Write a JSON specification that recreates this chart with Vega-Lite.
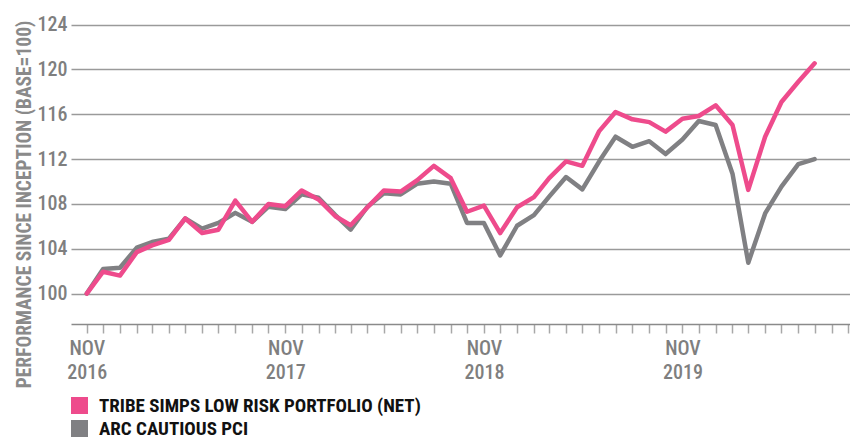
{
  "$schema": "https://vega.github.io/schema/vega-lite/v6.json",
  "width": 779,
  "height": 315,
  "autosize": {"type": "none"},
  "padding": {"left": 71, "top": 9, "right": 0, "bottom": 115},
  "background": "white",
  "config": {
    "view": {"stroke": null},
    "font": "Roboto Condensed, Roboto",
    "axis": {"labelFont": "Roboto Condensed, Roboto", "titleFont": "Roboto Condensed, Roboto"},
    "legend": {"labelFont": "Roboto Condensed, Roboto"}
  },
  "datasets": {
    "perf": [
      {"date": "2016-11-01", "series": "TRIBE SIMPS LOW RISK PORTFOLIO (NET)", "value": 100.0},
      {"date": "2016-12-01", "series": "TRIBE SIMPS LOW RISK PORTFOLIO (NET)", "value": 101.95},
      {"date": "2017-01-01", "series": "TRIBE SIMPS LOW RISK PORTFOLIO (NET)", "value": 101.6},
      {"date": "2017-02-01", "series": "TRIBE SIMPS LOW RISK PORTFOLIO (NET)", "value": 103.7},
      {"date": "2017-03-01", "series": "TRIBE SIMPS LOW RISK PORTFOLIO (NET)", "value": 104.3},
      {"date": "2017-04-01", "series": "TRIBE SIMPS LOW RISK PORTFOLIO (NET)", "value": 104.8},
      {"date": "2017-05-01", "series": "TRIBE SIMPS LOW RISK PORTFOLIO (NET)", "value": 106.7},
      {"date": "2017-06-01", "series": "TRIBE SIMPS LOW RISK PORTFOLIO (NET)", "value": 105.4},
      {"date": "2017-07-01", "series": "TRIBE SIMPS LOW RISK PORTFOLIO (NET)", "value": 105.7},
      {"date": "2017-08-01", "series": "TRIBE SIMPS LOW RISK PORTFOLIO (NET)", "value": 108.3},
      {"date": "2017-09-01", "series": "TRIBE SIMPS LOW RISK PORTFOLIO (NET)", "value": 106.4},
      {"date": "2017-10-01", "series": "TRIBE SIMPS LOW RISK PORTFOLIO (NET)", "value": 108.0},
      {"date": "2017-11-01", "series": "TRIBE SIMPS LOW RISK PORTFOLIO (NET)", "value": 107.8},
      {"date": "2017-12-01", "series": "TRIBE SIMPS LOW RISK PORTFOLIO (NET)", "value": 109.2},
      {"date": "2018-01-01", "series": "TRIBE SIMPS LOW RISK PORTFOLIO (NET)", "value": 108.4},
      {"date": "2018-02-01", "series": "TRIBE SIMPS LOW RISK PORTFOLIO (NET)", "value": 106.9},
      {"date": "2018-03-01", "series": "TRIBE SIMPS LOW RISK PORTFOLIO (NET)", "value": 106.1},
      {"date": "2018-04-01", "series": "TRIBE SIMPS LOW RISK PORTFOLIO (NET)", "value": 107.7},
      {"date": "2018-05-01", "series": "TRIBE SIMPS LOW RISK PORTFOLIO (NET)", "value": 109.2},
      {"date": "2018-06-01", "series": "TRIBE SIMPS LOW RISK PORTFOLIO (NET)", "value": 109.1},
      {"date": "2018-07-01", "series": "TRIBE SIMPS LOW RISK PORTFOLIO (NET)", "value": 110.1},
      {"date": "2018-08-01", "series": "TRIBE SIMPS LOW RISK PORTFOLIO (NET)", "value": 111.4},
      {"date": "2018-09-01", "series": "TRIBE SIMPS LOW RISK PORTFOLIO (NET)", "value": 110.3},
      {"date": "2018-10-01", "series": "TRIBE SIMPS LOW RISK PORTFOLIO (NET)", "value": 107.3},
      {"date": "2018-11-01", "series": "TRIBE SIMPS LOW RISK PORTFOLIO (NET)", "value": 107.85},
      {"date": "2018-12-01", "series": "TRIBE SIMPS LOW RISK PORTFOLIO (NET)", "value": 105.4},
      {"date": "2019-01-01", "series": "TRIBE SIMPS LOW RISK PORTFOLIO (NET)", "value": 107.7},
      {"date": "2019-02-01", "series": "TRIBE SIMPS LOW RISK PORTFOLIO (NET)", "value": 108.6},
      {"date": "2019-03-01", "series": "TRIBE SIMPS LOW RISK PORTFOLIO (NET)", "value": 110.3},
      {"date": "2019-04-01", "series": "TRIBE SIMPS LOW RISK PORTFOLIO (NET)", "value": 111.8},
      {"date": "2019-05-01", "series": "TRIBE SIMPS LOW RISK PORTFOLIO (NET)", "value": 111.4},
      {"date": "2019-06-01", "series": "TRIBE SIMPS LOW RISK PORTFOLIO (NET)", "value": 114.5},
      {"date": "2019-07-01", "series": "TRIBE SIMPS LOW RISK PORTFOLIO (NET)", "value": 116.2},
      {"date": "2019-08-01", "series": "TRIBE SIMPS LOW RISK PORTFOLIO (NET)", "value": 115.55},
      {"date": "2019-09-01", "series": "TRIBE SIMPS LOW RISK PORTFOLIO (NET)", "value": 115.3},
      {"date": "2019-10-01", "series": "TRIBE SIMPS LOW RISK PORTFOLIO (NET)", "value": 114.45},
      {"date": "2019-11-01", "series": "TRIBE SIMPS LOW RISK PORTFOLIO (NET)", "value": 115.6},
      {"date": "2019-12-01", "series": "TRIBE SIMPS LOW RISK PORTFOLIO (NET)", "value": 115.85},
      {"date": "2020-01-01", "series": "TRIBE SIMPS LOW RISK PORTFOLIO (NET)", "value": 116.8},
      {"date": "2020-02-01", "series": "TRIBE SIMPS LOW RISK PORTFOLIO (NET)", "value": 115.05},
      {"date": "2020-03-01", "series": "TRIBE SIMPS LOW RISK PORTFOLIO (NET)", "value": 109.25},
      {"date": "2020-04-01", "series": "TRIBE SIMPS LOW RISK PORTFOLIO (NET)", "value": 114.0},
      {"date": "2020-05-01", "series": "TRIBE SIMPS LOW RISK PORTFOLIO (NET)", "value": 117.1},
      {"date": "2020-06-01", "series": "TRIBE SIMPS LOW RISK PORTFOLIO (NET)", "value": 118.9},
      {"date": "2020-07-01", "series": "TRIBE SIMPS LOW RISK PORTFOLIO (NET)", "value": 120.55},
      {"date": "2016-11-01", "series": "ARC CAUTIOUS PCI", "value": 100.0},
      {"date": "2016-12-01", "series": "ARC CAUTIOUS PCI", "value": 102.2},
      {"date": "2017-01-01", "series": "ARC CAUTIOUS PCI", "value": 102.3},
      {"date": "2017-02-01", "series": "ARC CAUTIOUS PCI", "value": 104.1},
      {"date": "2017-03-01", "series": "ARC CAUTIOUS PCI", "value": 104.6},
      {"date": "2017-04-01", "series": "ARC CAUTIOUS PCI", "value": 104.9},
      {"date": "2017-05-01", "series": "ARC CAUTIOUS PCI", "value": 106.7},
      {"date": "2017-06-01", "series": "ARC CAUTIOUS PCI", "value": 105.8},
      {"date": "2017-07-01", "series": "ARC CAUTIOUS PCI", "value": 106.3},
      {"date": "2017-08-01", "series": "ARC CAUTIOUS PCI", "value": 107.2},
      {"date": "2017-09-01", "series": "ARC CAUTIOUS PCI", "value": 106.4},
      {"date": "2017-10-01", "series": "ARC CAUTIOUS PCI", "value": 107.75},
      {"date": "2017-11-01", "series": "ARC CAUTIOUS PCI", "value": 107.55},
      {"date": "2017-12-01", "series": "ARC CAUTIOUS PCI", "value": 108.85},
      {"date": "2018-01-01", "series": "ARC CAUTIOUS PCI", "value": 108.55},
      {"date": "2018-02-01", "series": "ARC CAUTIOUS PCI", "value": 107.0},
      {"date": "2018-03-01", "series": "ARC CAUTIOUS PCI", "value": 105.7},
      {"date": "2018-04-01", "series": "ARC CAUTIOUS PCI", "value": 107.75},
      {"date": "2018-05-01", "series": "ARC CAUTIOUS PCI", "value": 108.95},
      {"date": "2018-06-01", "series": "ARC CAUTIOUS PCI", "value": 108.85},
      {"date": "2018-07-01", "series": "ARC CAUTIOUS PCI", "value": 109.8},
      {"date": "2018-08-01", "series": "ARC CAUTIOUS PCI", "value": 110.0},
      {"date": "2018-09-01", "series": "ARC CAUTIOUS PCI", "value": 109.8},
      {"date": "2018-10-01", "series": "ARC CAUTIOUS PCI", "value": 106.3},
      {"date": "2018-11-01", "series": "ARC CAUTIOUS PCI", "value": 106.3},
      {"date": "2018-12-01", "series": "ARC CAUTIOUS PCI", "value": 103.4},
      {"date": "2019-01-01", "series": "ARC CAUTIOUS PCI", "value": 106.05},
      {"date": "2019-02-01", "series": "ARC CAUTIOUS PCI", "value": 107.0},
      {"date": "2019-03-01", "series": "ARC CAUTIOUS PCI", "value": 108.65},
      {"date": "2019-04-01", "series": "ARC CAUTIOUS PCI", "value": 110.4},
      {"date": "2019-05-01", "series": "ARC CAUTIOUS PCI", "value": 109.3},
      {"date": "2019-06-01", "series": "ARC CAUTIOUS PCI", "value": 111.8},
      {"date": "2019-07-01", "series": "ARC CAUTIOUS PCI", "value": 114.0},
      {"date": "2019-08-01", "series": "ARC CAUTIOUS PCI", "value": 113.1},
      {"date": "2019-09-01", "series": "ARC CAUTIOUS PCI", "value": 113.6},
      {"date": "2019-10-01", "series": "ARC CAUTIOUS PCI", "value": 112.45},
      {"date": "2019-11-01", "series": "ARC CAUTIOUS PCI", "value": 113.75},
      {"date": "2019-12-01", "series": "ARC CAUTIOUS PCI", "value": 115.4},
      {"date": "2020-01-01", "series": "ARC CAUTIOUS PCI", "value": 115.05},
      {"date": "2020-02-01", "series": "ARC CAUTIOUS PCI", "value": 110.7},
      {"date": "2020-03-01", "series": "ARC CAUTIOUS PCI", "value": 102.75},
      {"date": "2020-04-01", "series": "ARC CAUTIOUS PCI", "value": 107.15},
      {"date": "2020-05-01", "series": "ARC CAUTIOUS PCI", "value": 109.55},
      {"date": "2020-06-01", "series": "ARC CAUTIOUS PCI", "value": 111.55},
      {"date": "2020-07-01", "series": "ARC CAUTIOUS PCI", "value": 112.0}
    ],
    "novs": [
      {"date": "2016-11-01"},
      {"date": "2017-11-01"},
      {"date": "2018-11-01"},
      {"date": "2019-11-01"}
    ]
  },
  "layer": [
    {
      "data": {"name": "novs"},
      "mark": {"type": "rule", "color": "#8a8a8a", "strokeWidth": 1.5, "strokeDash": [1.5, 4.2]},
      "encoding": {
        "x": {"field": "date", "type": "temporal"},
        "y": {"datum": 125.4},
        "y2": {"datum": 98.55}
      }
    },
    {
      "data": {"name": "perf"},
      "transform": [{"filter": "datum.series == 'ARC CAUTIOUS PCI'"}],
      "mark": {"type": "line", "strokeWidth": 4.5, "strokeJoin": "round", "strokeCap": "round"},
      "encoding": {
        "x": {"field": "date", "type": "temporal"},
        "y": {"field": "value", "type": "quantitative"},
        "color": {"field": "series", "type": "nominal"}
      }
    },
    {
      "data": {"name": "perf"},
      "transform": [{"filter": "datum.series == 'TRIBE SIMPS LOW RISK PORTFOLIO (NET)'"}],
      "mark": {"type": "line", "strokeWidth": 4.5, "strokeJoin": "round", "strokeCap": "round"},
      "encoding": {
        "x": {"field": "date", "type": "temporal"},
        "y": {"field": "value", "type": "quantitative"},
        "color": {"field": "series", "type": "nominal"}
      }
    }
  ],
  "encoding": {
    "x": {
      "field": "date",
      "type": "temporal",
      "scale": {
        "type": "utc",
        "domain": [{"year": 2016, "month": 10, "date": 3, "utc": true}, {"year": 2020, "month": 9, "date": 4, "utc": true}]
      },
      "axis": {
        "title": null,
        "grid": false,
        "tickCount": {"interval": "month", "step": 1},
        "domainColor": "#8a8a8a",
        "domainWidth": 1.5,
        "tickColor": "#a8a8a8",
        "tickWidth": 1.5,
        "tickSize": 9,
        "labelExpr": "utcmonth(datum.value) == 10 ? ['NOV', utcFormat(datum.value, '%Y')] : ''",
        "labelFontSize": 20,
        "labelColor": "#7f7f7f",
        "labelFontWeight": 500,
        "labelLineHeight": 24,
        "labelPadding": 5,
        "labelOverlap": false,
        "labelFlush": false,
        "labelBound": false
      }
    },
    "y": {
      "type": "quantitative",
      "scale": {"domain": [97.28, 125.4], "nice": false, "zero": false},
      "axis": {
        "title": "PERFORMANCE SINCE INCEPTION (BASE=100)",
        "values": [100, 104, 108, 112, 116, 120, 124],
        "domain": false,
        "ticks": false,
        "grid": true,
        "gridColor": "#9a9a9a",
        "gridWidth": 1.5,
        "labelFontSize": 20,
        "labelColor": "#7f7f7f",
        "labelFontWeight": 500,
        "labelPadding": 4,
        "labelBaseline": "middle",
        "titleFontSize": 19.5,
        "titleColor": "#8a8a8a",
        "titleFontWeight": "bold",
        "titleAlign": "center",
        "titleBaseline": "middle",
        "titleAngle": -90,
        "titleX": -47,
        "titleY": 195
      }
    },
    "color": {
      "field": "series",
      "type": "nominal",
      "scale": {
        "domain": ["TRIBE SIMPS LOW RISK PORTFOLIO (NET)", "ARC CAUTIOUS PCI"],
        "range": ["#EE4B8C", "#808083"]
      },
      "legend": {
        "title": null,
        "orient": "none",
        "legendX": -1,
        "legendY": 387,
        "direction": "vertical",
        "padding": 0,
        "symbolType": "square",
        "symbolSize": 289,
        "rowPadding": 3,
        "labelFontSize": 19,
        "labelFontWeight": "bold",
        "labelColor": "#111111",
        "labelOffset": 10,
        "labelLimit": 600,
        "encode": {
          "symbols": {"update": {"fill": {"scale": "color", "field": "value"}, "strokeWidth": {"value": 0}, "opacity": {"value": 1}}}
        }
      }
    }
  }
}
